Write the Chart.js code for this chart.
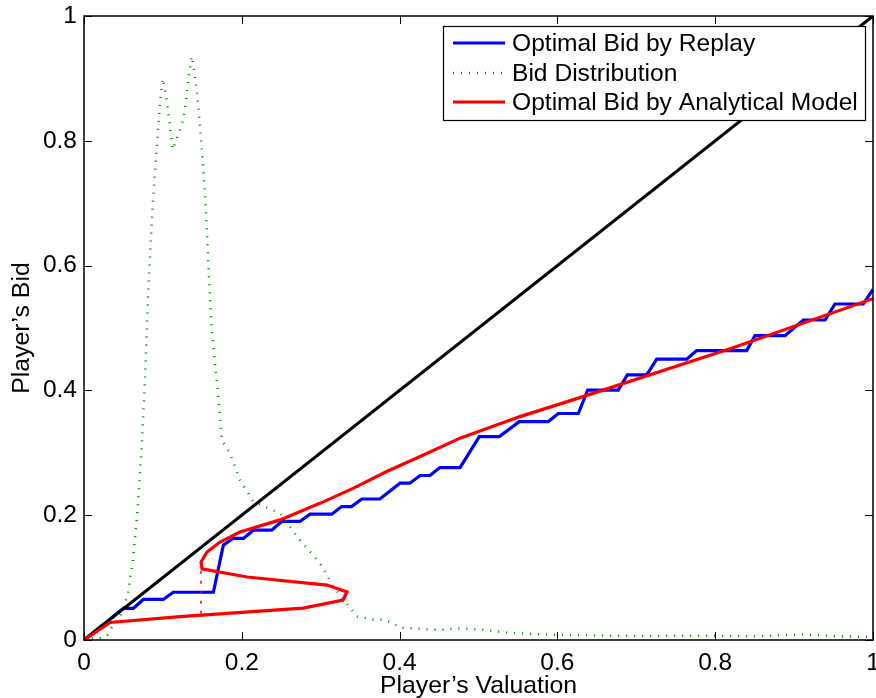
<!DOCTYPE html>
<html>
<head>
<meta charset="utf-8">
<script src="https://cdn.jsdelivr.net/npm/chart.js@4.4.0/dist/chart.umd.min.js"></script>
<style>
  html, body { margin: 0; padding: 0; background: #fff; }
  #wrap { width: 876px; height: 698px; }
</style>
</head>
<body>
<div id="wrap"><canvas id="bidChart" width="876" height="698"></canvas></div>
<script>
// values
const replayX = [0, 0.0498, 0.0625, 0.0752, 0.1005, 0.113, 0.164, 0.1766, 0.189, 0.2023, 0.2146, 0.2379, 0.2506, 0.2738, 0.2865,
  0.314, 0.3266, 0.339, 0.352, 0.375, 0.4005, 0.413, 0.426, 0.4385, 0.451, 0.4766, 0.501, 0.5264, 0.5517, 0.5885,
  0.6011, 0.6265, 0.6384, 0.6772, 0.6886, 0.7132, 0.7259, 0.7639, 0.7765, 0.8399, 0.8504, 0.8885, 0.9117, 0.9392,
  0.9518, 0.9877, 1.0];
const replayY = [0, 0.0508, 0.0508, 0.065, 0.065, 0.0765, 0.0765, 0.152, 0.163, 0.163, 0.176, 0.176, 0.19, 0.19, 0.2016,
  0.2016, 0.2138, 0.2138, 0.226, 0.226, 0.2513, 0.2513, 0.2636, 0.2636, 0.2764, 0.2764, 0.326, 0.326, 0.350, 0.350,
  0.363, 0.363, 0.4006, 0.4006, 0.425, 0.425, 0.450, 0.450, 0.4637, 0.4637, 0.4877, 0.4877, 0.5128, 0.5128,
  0.5385, 0.5385, 0.562];

const distX = [0, 0.0097, 0.02, 0.0296, 0.037, 0.0456, 0.052, 0.056, 0.0583, 0.0617, 0.0676, 0.0731, 0.0773, 0.0815,
  0.087, 0.092, 0.0963, 0.0997, 0.104, 0.109, 0.1124, 0.1195, 0.1259, 0.130, 0.1335, 0.1365, 0.1407, 0.1449, 0.149,
  0.1534, 0.1576, 0.1618, 0.1703, 0.1745, 0.185, 0.1977, 0.2146, 0.2484, 0.2738, 0.2991, 0.316, 0.333, 0.3456,
  0.3667, 0.379, 0.392, 0.4005, 0.451, 0.4724, 0.502, 0.5357, 0.578, 0.603, 0.7047, 0.78, 0.85, 0.915, 0.95, 1.0];
const distY = [0, 0.003, 0.003, 0.008, 0.024, 0.037, 0.059, 0.075, 0.099, 0.123, 0.203, 0.31, 0.417, 0.561,
  0.695, 0.786, 0.861, 0.9, 0.874, 0.823, 0.786, 0.81, 0.834, 0.871, 0.909, 0.9355, 0.906, 0.855, 0.791,
  0.716, 0.604, 0.497, 0.39, 0.321, 0.2995, 0.2566, 0.2218, 0.203, 0.160, 0.123, 0.0855, 0.0588, 0.0374,
  0.033, 0.033, 0.0267, 0.0198, 0.016, 0.0187, 0.017, 0.0118, 0.009, 0.008, 0.0064, 0.007, 0.006, 0.009, 0.006, 0.005];

const modelX = [0, 0.033, 0.1217, 0.2776, 0.3283, 0.3333, 0.308, 0.2066, 0.1496, 0.1483, 0.1559, 0.1724, 0.1977,
  0.2484, 0.299, 0.341, 0.3836, 0.426, 0.4766, 0.5526, 0.6324, 0.8225, 1.0];
const modelY = [0, 0.028, 0.0374, 0.051, 0.064, 0.077, 0.088, 0.101, 0.114, 0.125, 0.141, 0.157, 0.173,
  0.1925, 0.219, 0.243, 0.27, 0.294, 0.3235, 0.358, 0.39, 0.4683, 0.547];

// dotted red drop below the fold of the model curve
const foldX = [0.1483, 0.1483];
const foldY = [0.042, 0.113];

const diagX = [0, 1];
const diagY = [0, 1];

const xTickValues = [0, 0.2, 0.4, 0.6, 0.8, 1];
const xTickLabels = ['0', '0.2', '0.4', '0.6', '0.8', '1'];
const yTickValues = [0, 0.2, 0.4, 0.6, 0.8, 1];
const yTickLabels = ['0', '0.2', '0.4', '0.6', '0.8', '1'];

const FONT = 'Liberation Sans, Arial, Helvetica, sans-serif';

function pts(xs, ys) {
  return xs.map((x, i) => ({ x: x, y: ys[i] }));
}

// legend entries (in the order of the figure)
const legendItems = [
  { label: 'Optimal Bid by Replay', color: '#0000ff', dash: [] },
  { label: 'Bid Distribution', color: '#008000', dash: [1, 7] },
  { label: 'Optimal Bid by Analytical Model', color: '#ff0000', dash: [] }
];

const axesBox = {
  id: 'axesBox',
  afterDatasetsDraw(chart) {
    const { ctx, chartArea: a, scales } = chart;
    ctx.save();
    ctx.strokeStyle = '#000';
    ctx.lineWidth = 1;
    const tl = 8;
    xTickValues.forEach(v => {
      const px = Math.round(scales.x.getPixelForValue(v)) + 0.5;
      ctx.beginPath();
      ctx.moveTo(px, a.bottom); ctx.lineTo(px, a.bottom - tl);
      ctx.moveTo(px, a.top); ctx.lineTo(px, a.top + tl);
      ctx.stroke();
    });
    yTickValues.forEach(v => {
      const py = Math.round(scales.y.getPixelForValue(v)) + 0.5;
      ctx.beginPath();
      ctx.moveTo(a.left, py); ctx.lineTo(a.left + tl, py);
      ctx.moveTo(a.right, py); ctx.lineTo(a.right - tl, py);
      ctx.stroke();
    });
    ctx.lineWidth = 1.5;
    ctx.strokeRect(a.left, a.top, a.right - a.left, a.bottom - a.top);
    ctx.restore();
  },
  afterDraw(chart) {
    const ctx = chart.ctx;
    const box = { left: 443.5, top: 26.5, right: 865.5, bottom: 120.5 };
    const rows = [43, 73, 102];
    ctx.save();
    ctx.fillStyle = '#fff';
    ctx.fillRect(box.left, box.top, box.right - box.left, box.bottom - box.top);
    ctx.strokeStyle = '#000';
    ctx.lineWidth = 1.2;
    ctx.strokeRect(box.left, box.top, box.right - box.left, box.bottom - box.top);
    legendItems.forEach((item, i) => {
      const y = rows[i];
      ctx.beginPath();
      ctx.strokeStyle = item.color;
      ctx.lineWidth = item.dash.length ? 2.5 : 3;
      ctx.setLineDash(item.dash);
      ctx.moveTo(453, y); ctx.lineTo(505, y);
      ctx.stroke();
      ctx.setLineDash([]);
      ctx.fillStyle = '#000';
      ctx.font = '24.6px ' + FONT;
      ctx.textBaseline = 'middle';
      ctx.textAlign = 'left';
      ctx.fillText(item.label, 512, y + 1);
    });
    ctx.restore();
  }
};

const ctx = document.getElementById('bidChart').getContext('2d');
const chart = new Chart(ctx, {
  type: 'scatter',
  data: {
    datasets: [
      {
        label: 'Optimal Bid by Analytical Model',
        data: pts(modelX, modelY),
        borderColor: '#ff0000',
        borderWidth: 3.2,
        showLine: true,
        pointRadius: 0,
        tension: 0
      },
      {
        label: 'fold',
        data: pts(foldX, foldY),
        borderColor: '#ff0000',
        borderWidth: 1.5,
        borderDash: [3, 7],
        showLine: true,
        pointRadius: 0
      },
      {
        label: 'diagonal',
        data: pts(diagX, diagY),
        borderColor: '#000000',
        borderWidth: 3,
        showLine: true,
        pointRadius: 0
      },
      {
        label: 'Bid Distribution',
        data: pts(distX, distY),
        borderColor: '#008000',
        borderWidth: 2.5,
        borderDash: [1, 7],
        showLine: true,
        pointRadius: 0,
        tension: 0
      },
      {
        label: 'Optimal Bid by Replay',
        data: pts(replayX, replayY),
        borderColor: '#0000ff',
        borderWidth: 3.2,
        showLine: true,
        pointRadius: 0,
        tension: 0
      }
    ]
  },
  options: {
    responsive: false,
    animation: false,
    layout: { padding: { top: 16, right: 3, left: 0, bottom: 0 } },
    plugins: {
      legend: { display: false },
      tooltip: { enabled: false }
    },
    scales: {
      x: {
        type: 'linear',
        min: 0,
        max: 1,
        afterBuildTicks(s) { s.ticks = xTickValues.map(v => ({ value: v })); },
        afterFit(s) { s.height = 58; s.paddingLeft = 0; s.paddingRight = 0; },
        grid: { display: false, drawTicks: false },
        border: { display: false },
        ticks: {
          padding: 9,
          color: '#000',
          font: { family: FONT, size: 24.5 },
          maxRotation: 0,
          callback: v => xTickLabels[xTickValues.indexOf(v)]
        },
        title: {
          display: true,
          text: "Player\u2019s Valuation",
          color: '#000',
          font: { family: FONT, size: 24.8 },
          padding: { top: 0, bottom: -3 }
        }
      },
      y: {
        type: 'linear',
        min: 0,
        max: 1,
        afterBuildTicks(s) { s.ticks = yTickValues.map(v => ({ value: v })); },
        afterFit(s) { s.width = 84; s.paddingTop = 0; s.paddingBottom = 0; },
        grid: { display: false, drawTicks: false },
        border: { display: false },
        ticks: {
          padding: 7,
          color: '#000',
          font: { family: FONT, size: 24.5 },
          callback: v => yTickLabels[yTickValues.indexOf(v)]
        },
        title: {
          display: true,
          text: "Player\u2019s Bid",
          color: '#000',
          font: { family: FONT, size: 24.8 },
          padding: { top: 7, bottom: 0 }
        }
      }
    }
  },
  plugins: [axesBox]
});
</script>
</body>
</html>
